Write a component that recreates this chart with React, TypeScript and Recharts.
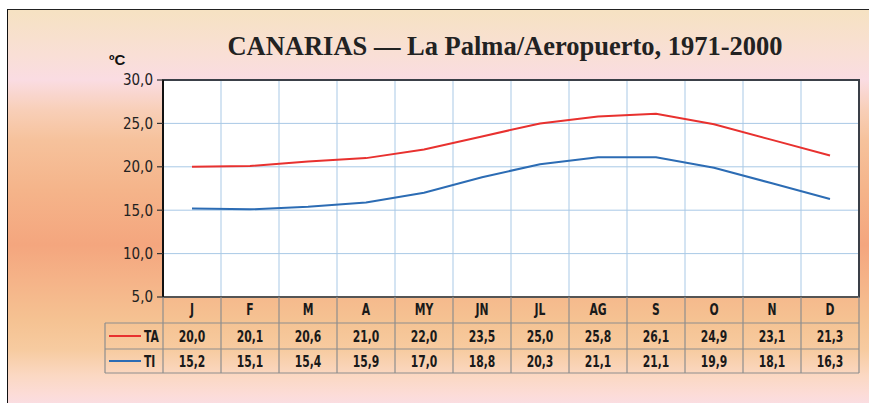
import React from 'react';
import { ComposedChart, Line, XAxis, YAxis, CartesianGrid, ReferenceArea } from 'recharts';

const months = ['J', 'F', 'M', 'A', 'MY', 'JN', 'JL', 'AG', 'S', 'O', 'N', 'D'];
const taValues = [20.0, 20.1, 20.6, 21.0, 22.0, 23.5, 25.0, 25.8, 26.1, 24.9, 23.1, 21.3];
const tiValues = [15.2, 15.1, 15.4, 15.9, 17.0, 18.8, 20.3, 21.1, 21.1, 19.9, 18.1, 16.3];
const yTicks = [5, 10, 15, 20, 25, 30];
const seriesNames = ['TA', 'TI'];
const seriesColors = ['#e8312f', '#2c6cb4'];
const titleText = 'CANARIAS — La Palma/Aeropuerto, 1971-2000';
const unitText = 'ºC';

const data = months.map((m, i) => ({ month: m, TA: taValues[i], TI: tiValues[i] }));

const W = 869;
const H = 403;
const Y_AXIS_W = 163;
const M_RIGHT = 10;
const M_TOP = 80;
const X_AXIS_H = 106;
const CELL = (W - Y_AXIS_W - M_RIGHT) / months.length;

const NARROW = "'Liberation Sans Narrow', 'DejaVu Sans Condensed', 'Arial Narrow', 'Liberation Sans', sans-serif";
const fmt = (v: number) => v.toFixed(1).replace('.', ',');
const TABLE_STROKE = '#8e8e8e';
const SX = 0.8;

const NText = ({ x, y, anchor, children }: any) => (
  <text
    transform={`translate(${x},${y}) scale(${SX},1)`}
    textAnchor={anchor || 'middle'}
    style={{ fontFamily: NARROW, fontWeight: 700, fontSize: 15, fill: '#1a1a1a' }}
  >
    {children}
  </text>
);

const TableTick = (props: any) => {
  const { x, y, payload, index } = props;
  const half = payload && payload.offset > 0 ? payload.offset : CELL / 2;
  const i = index;
  const left = x - half;
  const right = x + half;
  const r1 = y + 26;
  const r2 = y + 52;
  const r3 = y + 76;
  const legendLeft = left - 2 * half;
  return (
    <g>
      {index === 0 && (
        <g>
          <line x1={left} x2={left} y1={y} y2={r3} stroke={TABLE_STROKE} strokeWidth={1.2} />
          <line x1={legendLeft} x2={left} y1={r1} y2={r1} stroke={TABLE_STROKE} strokeWidth={1.2} />
          <line x1={legendLeft} x2={left} y1={r2} y2={r2} stroke={TABLE_STROKE} strokeWidth={1.2} />
          <line x1={legendLeft} x2={left} y1={r3} y2={r3} stroke={TABLE_STROKE} strokeWidth={1.2} />
          <line x1={legendLeft} x2={legendLeft} y1={r1} y2={r3} stroke={TABLE_STROKE} strokeWidth={1.2} />
          <line x1={legendLeft + 4} x2={legendLeft + 36} y1={r1 + 13} y2={r1 + 13} stroke={seriesColors[0]} strokeWidth={2} />
          <NText x={legendLeft + 39} y={r1 + 19} anchor="start">{seriesNames[0]}</NText>
          <line x1={legendLeft + 4} x2={legendLeft + 36} y1={r2 + 12} y2={r2 + 12} stroke={seriesColors[1]} strokeWidth={2} />
          <NText x={legendLeft + 39} y={r2 + 18} anchor="start">{seriesNames[1]}</NText>
        </g>
      )}
      <line x1={right} x2={right} y1={y} y2={r3} stroke={TABLE_STROKE} strokeWidth={1.2} />
      <line x1={left} x2={right} y1={r1} y2={r1} stroke={TABLE_STROKE} strokeWidth={1.2} />
      <line x1={left} x2={right} y1={r2} y2={r2} stroke={TABLE_STROKE} strokeWidth={1.2} />
      <line x1={left} x2={right} y1={r3} y2={r3} stroke={TABLE_STROKE} strokeWidth={1.2} />
      <NText x={x} y={y + 18}>{payload.value}</NText>
      <NText x={x} y={r1 + 19}>{fmt(taValues[i])}</NText>
      <NText x={x} y={r2 + 18}>{fmt(tiValues[i])}</NText>
    </g>
  );
};

const vertGen = (p: any) => {
  const off = p.offset || {};
  const l = off.left ?? Y_AXIS_W;
  const w = off.width ?? CELL * months.length;
  const res: number[] = [];
  for (let k = 1; k < months.length; k++) res.push(l + (k * w) / months.length);
  return res;
};

export default function App() {
  return (
    <div style={{ position: 'absolute', left: 0, top: 0, width: W, height: H, background: '#fff', overflow: 'hidden' }}>
      <div
        style={{
          position: 'absolute',
          left: 7,
          top: 9,
          width: W - 7,
          height: H - 9,
          boxSizing: 'border-box',
          borderLeft: '1.5px solid #111',
          borderTop: '1.5px solid #222',
          background:
            'linear-gradient(to bottom, #f6e2c2 0px, #f9dfd6 45px, #fadce2 70px, #f8cfb8 100px, #f6c29c 130px, #f5b48a 180px, #f4a67e 235px, #f5b388 270px, #f5c292 310px, #f7cba0 340px, #fbd8c2 365px, #fcdcd8 385px, #fadde2 394px)',
        }}
      />
      <svg width={W} height={H} style={{ position: 'absolute', left: 0, top: 0 }}>
        <text x={505} y={55} textAnchor="middle" style={{ fontFamily: "'Liberation Serif', 'Times New Roman', serif", fontWeight: 700, fontSize: 26.5, fill: '#222' }}>
          {titleText}
        </text>
        <text x={109} y={65} style={{ fontFamily: "'Liberation Sans', Arial, sans-serif", fontWeight: 700, fontSize: 15, fill: '#111' }}>
          {unitText}
        </text>
      </svg>
      <div style={{ position: 'absolute', left: 0, top: 0 }}>
        <ComposedChart width={W} height={H} data={data} margin={{ top: M_TOP, right: M_RIGHT, bottom: 0, left: 0 }}>
          <CartesianGrid fill="#ffffff" stroke="#a9c9e6" strokeWidth={1} verticalCoordinatesGenerator={vertGen} />
          <XAxis
            dataKey="month"
            scale="band"
            height={X_AXIS_H}
            tickSize={0}
            tickMargin={0}
            tickLine={false}
            interval={0}
            axisLine={{ stroke: '#555', strokeWidth: 2 }}
            tick={<TableTick />}
          />
          <YAxis
            width={Y_AXIS_W}
            domain={[5, 30]}
            ticks={yTicks}
            interval={0}
            tickSize={6}
            tickMargin={4}
            tickFormatter={(v: number) => fmt(v)}
            tick={{ fontFamily: NARROW, fontSize: 15, fill: '#222' }}
            tickLine={{ stroke: '#333', strokeWidth: 1.2 }}
            axisLine={{ stroke: '#111', strokeWidth: 2 }}
          />
          <ReferenceArea y1={5} y2={30} fill="none" stroke="#3a3f47" strokeWidth={2} ifOverflow="visible" />
          <Line dataKey="TA" stroke={seriesColors[0]} strokeWidth={2} dot={false} isAnimationActive={false} />
          <Line dataKey="TI" stroke={seriesColors[1]} strokeWidth={2} dot={false} isAnimationActive={false} />
        </ComposedChart>
      </div>
    </div>
  );
}
